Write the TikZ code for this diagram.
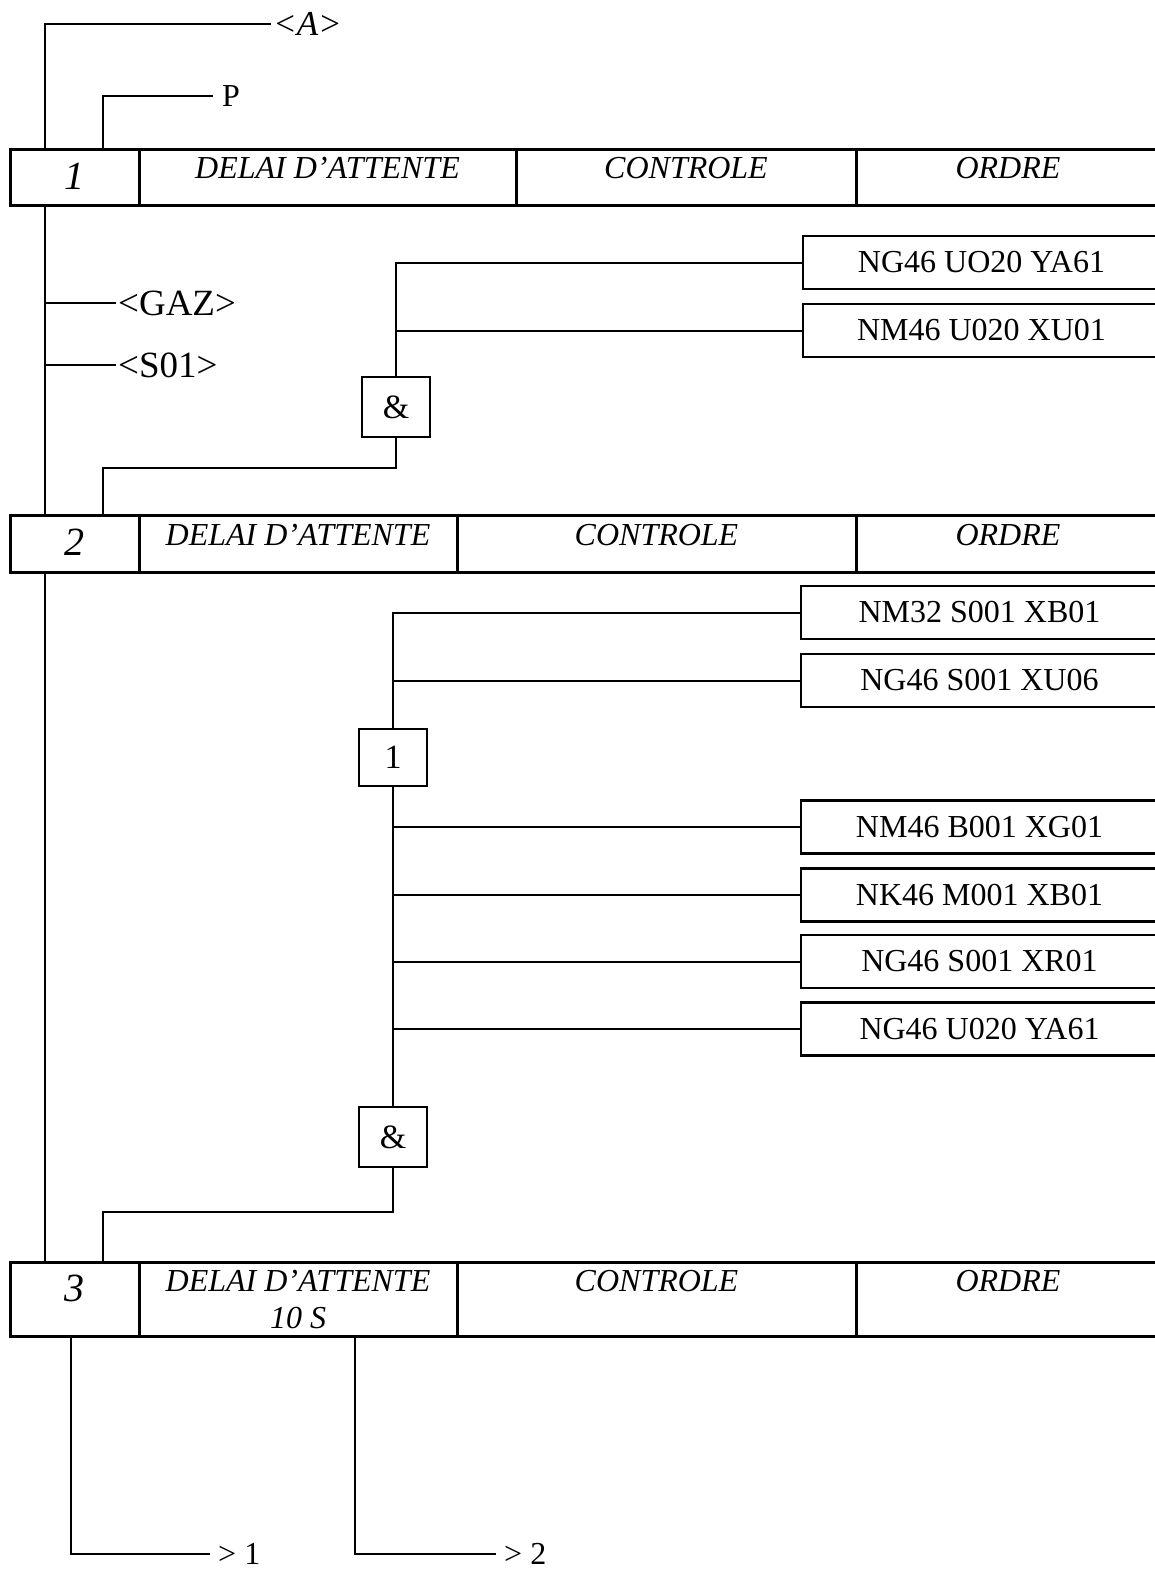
\documentclass[tikz,border=0pt]{standalone}
\usepackage{fontspec}
\setmainfont{Liberation Serif}
\usetikzlibrary{positioning}

\begin{document}
\begin{tikzpicture}[x=1pt,y=-1pt,
  cell/.style={draw,line width=3pt,inner sep=0pt,outer sep=0pt,anchor=north west},
  head/.style={font=\itshape\fontsize{32}{37}\selectfont,inner sep=0pt,align=center},
  num/.style={font=\itshape\fontsize{40}{44}\selectfont,inner sep=0pt},
  sig/.style={draw,line width=2.5pt,anchor=west,minimum width=357,minimum height=53,
    inner sep=0pt,outer sep=0pt,font=\fontsize{32}{37}\selectfont},
  gate/.style={draw,line width=2pt,minimum width=68,minimum height=60,
    inner sep=0pt,outer sep=0pt,font=\fontsize{34}{38}\selectfont},
  lbl/.style={inner sep=2pt,anchor=west,font=\fontsize{37}{40}\selectfont},
  wire/.style={line width=2pt}]
\useasboundingbox (0,0) rectangle (1155,1571);
\coordinate (spine) at (45,0);
\coordinate (link) at (103,0);
\coordinate (out1) at (71,0);
\coordinate (out2) at (355,0);

% etape 1
\node[cell,minimum width=129,minimum height=56] (n1) at (10,149) {};
\node[cell,minimum width=377,minimum height=56,right=0pt of n1] (d1) {};
\node[cell,minimum width=340,minimum height=56,right=0pt of d1] (c1) {};
\node[cell,minimum width=304,minimum height=56,right=0pt of c1] (o1) {};
\node[num] (n1t) at ([yshift=-27pt]n1.north) {1};
\node[head] (d1t) at ([yshift=-19pt]d1.north) {DELAI D'ATTENTE};
\node[head] (c1t) at ([yshift=-19pt]c1.north) {CONTROLE};
\node[head] (o1t) at ([yshift=-19pt]o1.north) {ORDRE};

% etape 2
\node[cell,minimum width=129,minimum height=57] (n2) at (10,515) {};
\node[cell,minimum width=318,minimum height=57,right=0pt of n2] (d2) {};
\node[cell,minimum width=399,minimum height=57,right=0pt of d2] (c2) {};
\node[cell,minimum width=304,minimum height=57,right=0pt of c2] (o2) {};
\node[num] (n2t) at ([yshift=-27pt]n2.north) {2};
\node[head] (d2t) at ([yshift=-20pt]d2.north) {DELAI D'ATTENTE};
\node[head] (c2t) at ([yshift=-20pt]c2.north) {CONTROLE};
\node[head] (o2t) at ([yshift=-20pt]o2.north) {ORDRE};

% etape 3
\node[cell,minimum width=129,minimum height=74] (n3) at (10,1262) {};
\node[cell,minimum width=318,minimum height=74,right=0pt of n3] (d3) {};
\node[cell,minimum width=399,minimum height=74,right=0pt of d3] (c3) {};
\node[cell,minimum width=304,minimum height=74,right=0pt of c3] (o3) {};
\node[num] (n3t) at ([yshift=-26pt]n3.north) {3};
\node[head] (d3t) at ([yshift=-37.5pt]d3.north) {DELAI D'ATTENTE\\10 S};
\node[head] (c3t) at ([yshift=-19pt]c3.north) {CONTROLE};
\node[head] (o3t) at ([yshift=-19pt]o3.north) {ORDRE};

% entree
\node[lbl,font=\itshape\fontsize{35}{38}\selectfont] (ta) at (271,24) {<A>};
\draw[wire] (ta.west) -| (spine |- n1.north);
\node[lbl,inner xsep=9pt,font=\fontsize{32}{35}\selectfont] (tp) at (213,96) {P};
\draw[wire] (tp.west) -| (link |- n1.north);

\node[lbl] (tgaz) at (116,303) {<GAZ>};
\node[lbl] (ts01) at (116,365) {<S01>};
\draw[wire] (spine |- n1.south) -- (spine |- n2.north);
\draw[wire] (spine |- n2.south) -- (spine |- n3.north);
\draw[wire] (tgaz.west) -- (spine |- tgaz.west);
\draw[wire] (ts01.west) -- (spine |- ts01.west);

% conditions 1 -> 2
\node[sig] (a1) at (803,262.5) {NG46 UO20 YA61};
\node[sig] (a2) at (803,330.5) {NM46 U020 XU01};
\node[gate] (g1) at (396,407) {\&};
\draw[wire] (a1.west) -| (g1.north);
\draw[wire] (a2.west) -- (a2.west -| g1.north);
\draw[wire] (g1.south) -- ++(0,31) -| (link |- n2.north);

% conditions 2 -> 3
\node[sig] (b1) at (801,612.5) {NM32 S001 XB01};
\node[sig] (b2) at (801,680.5) {NG46 S001 XU06};
\node[sig] (b3) at (801,827) {NM46 B001 XG01};
\node[sig] (b4) at (801,895) {NK46 M001 XB01};
\node[sig] (b5) at (801,961.5) {NG46 S001 XR01};
\node[sig] (b6) at (801,1029) {NG46 U020 YA61};
\node[gate,minimum height=57] (g2) at (393,757) {1};
\node[gate] (g3) at (393,1137) {\&};
\draw[wire] (b1.west) -| (g2.north);
\draw[wire] (b2.west) -- (b2.west -| g2.north);
\draw[wire] (g2.south) -- (g3.north);
\draw[wire] (b3.west) -- (b3.west -| g2.south);
\draw[wire] (b4.west) -- (b4.west -| g2.south);
\draw[wire] (b5.west) -- (b5.west -| g2.south);
\draw[wire] (b6.west) -- (b6.west -| g2.south);
\draw[wire] (g3.south) -- ++(0,45) -| (link |- n3.north);

% sorties
\node[lbl,inner xsep=8pt,font=\fontsize{32}{36}\selectfont] (q1) at (210,1554) {> 1};
\node[lbl,inner xsep=8pt,font=\fontsize{32}{36}\selectfont] (q2) at (496,1554) {> 2};
\draw[wire] (n3.south -| out1) |- (q1.west);
\draw[wire] (n3.south -| out2) |- (q2.west);
\end{tikzpicture}
\end{document}
